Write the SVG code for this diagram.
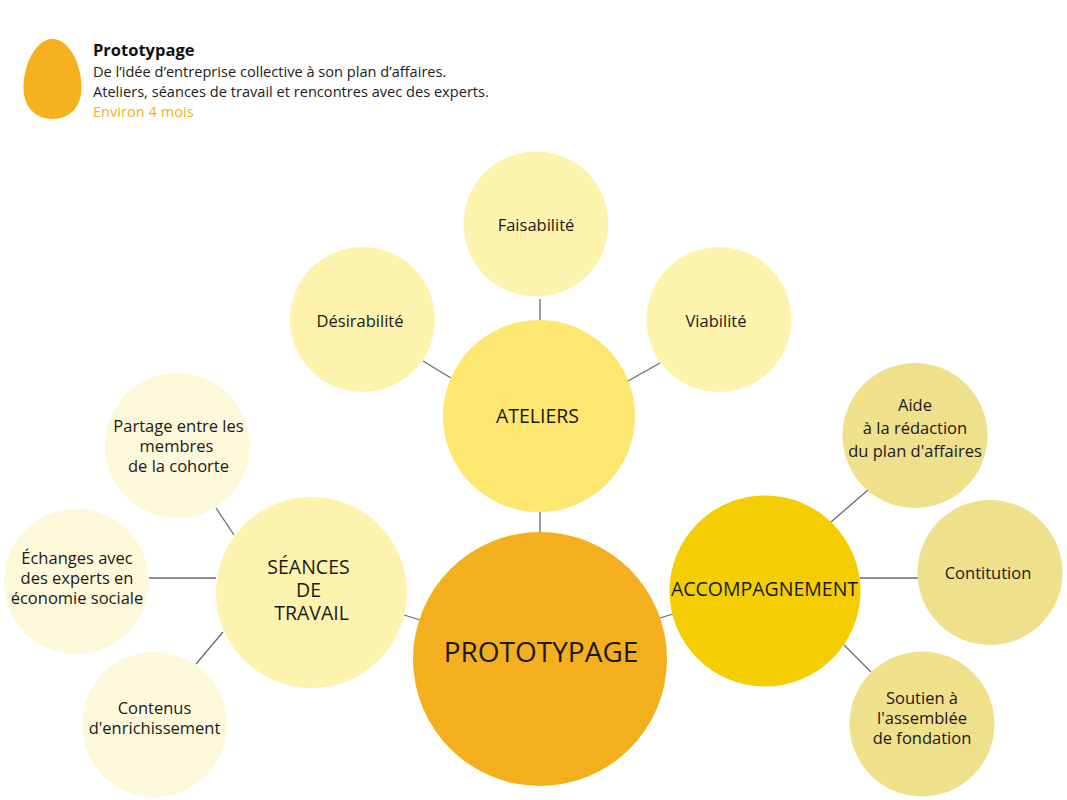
<svg xmlns="http://www.w3.org/2000/svg" width="1067" height="800" viewBox="0 0 1067 800">
<style>
  text { font-family: "Open Sans", "Noto Sans", "Liberation Sans", sans-serif; fill: #1a1a1a; text-anchor: middle; }
  .hdr { text-anchor: start; font-size: 14.6px; fill: #222; }
  .ttl { text-anchor: start; font-size: 16.5px; font-weight: bold; fill: #111; }
  .acc { fill: #F5B01F; }
  .sm { font-size: 16.5px; }
  .md { font-size: 19.5px; }
  .lg { font-size: 28px; }
  .conn line { stroke: #6b6b6b; stroke-width: 1.3; }
  .c-main { fill: #F4AF1F; }
  .c-atel { fill: #FDE770; }
  .c-seance { fill: #FEF3AE; }
  .c-accomp { fill: #F4CE02; }
  .c-atel-sub { fill: #FEF3AD; }
  .c-seance-sub { fill: #FEF8DB; }
  .c-accomp-sub { fill: #EFE08C; }
</style>
<rect width="1067" height="800" fill="#ffffff"/>

<g id="header">
  <path d="M52.5,39 C68,39 81.5,62 81.5,88 C81.5,108 68.5,119 52.5,119 C36.5,119 23.5,108 23.5,88 C23.5,62 37,39 52.5,39 Z" fill="#F5B11F"/>
  <text class="ttl" x="93" y="56">Prototypage</text>
  <text class="hdr" x="93" y="77">De l’idée d’entreprise collective à son plan d’affaires.</text>
  <text class="hdr" x="93" y="97">Ateliers, séances de travail et rencontres avec des experts.</text>
  <text class="hdr acc" x="93" y="117">Environ 4 mois</text>
</g>

<g id="connectors" class="conn">
  <line x1="540" y1="299" x2="540" y2="320"/>
  <line x1="423" y1="361" x2="451" y2="378"/>
  <line x1="628" y1="381" x2="660" y2="363"/>
  <line x1="540" y1="512" x2="540" y2="532"/>
  <line x1="216" y1="508" x2="234" y2="535"/>
  <line x1="149" y1="578" x2="216" y2="578"/>
  <line x1="196" y1="664" x2="223" y2="632"/>
  <line x1="404" y1="615" x2="420" y2="620"/>
  <line x1="660" y1="618" x2="673" y2="614"/>
  <line x1="831" y1="522" x2="868" y2="490"/>
  <line x1="860" y1="578" x2="918" y2="578"/>
  <line x1="844" y1="645" x2="871" y2="672"/>
</g>

<g id="node-faisabilite">
  <circle class="c-atel-sub" cx="536" cy="224" r="72.5"/>
  <text class="sm" x="536" y="231">Faisabilité</text>
</g>
<g id="node-desirabilite">
  <circle class="c-atel-sub" cx="362.5" cy="319.5" r="72.5"/>
  <text class="sm" x="360" y="327">Désirabilité</text>
</g>
<g id="node-viabilite">
  <circle class="c-atel-sub" cx="719" cy="319.5" r="72.5"/>
  <text class="sm" x="716" y="327">Viabilité</text>
</g>
<g id="node-ateliers">
  <circle class="c-atel" cx="539" cy="416" r="96"/>
  <text class="md" x="537.5" y="423">ATELIERS</text>
</g>

<g id="node-partage">
  <circle class="c-seance-sub" cx="177.5" cy="445.5" r="72.5"/>
  <text class="sm" x="178.5" y="432">Partage entre les</text>
  <text class="sm" x="176.5" y="452">membres</text>
  <text class="sm" x="178.5" y="472">de la cohorte</text>
</g>
<g id="node-echanges">
  <circle class="c-seance-sub" cx="76.5" cy="581.5" r="72.5"/>
  <text class="sm" x="77" y="564">Échanges avec</text>
  <text class="sm" x="77" y="584">des experts en</text>
  <text class="sm" x="77" y="603.5">économie sociale</text>
</g>
<g id="node-contenus">
  <circle class="c-seance-sub" cx="154.5" cy="724.5" r="72.5"/>
  <text class="sm" x="154.5" y="714">Contenus</text>
  <text class="sm" x="154.5" y="734">d'enrichissement</text>
</g>
<g id="node-seances">
  <circle class="c-seance" cx="311.5" cy="592.5" r="95.5"/>
  <text class="md" x="308.5" y="574">SÉANCES</text>
  <text class="md" x="308.5" y="597">DE</text>
  <text class="md" x="311.5" y="619.5">TRAVAIL</text>
</g>

<g id="node-aide">
  <circle class="c-accomp-sub" cx="915" cy="435.5" r="72.5"/>
  <text class="sm" x="915" y="411">Aide</text>
  <text class="sm" x="915" y="433.5">à la rédaction</text>
  <text class="sm" x="915" y="456.5">du plan d'affaires</text>
</g>
<g id="node-contitution">
  <circle class="c-accomp-sub" cx="990" cy="572.5" r="72.5"/>
  <text class="sm" x="988" y="578.5">Contitution</text>
</g>
<g id="node-soutien">
  <circle class="c-accomp-sub" cx="922" cy="724" r="72.5"/>
  <text class="sm" x="922" y="704">Soutien à</text>
  <text class="sm" x="922" y="724">l'assemblée</text>
  <text class="sm" x="922" y="744">de fondation</text>
</g>
<g id="node-accompagnement">
  <circle class="c-accomp" cx="765" cy="591" r="95.5"/>
  <text class="md" x="764.5" y="596">ACCOMPAGNEMENT</text>
</g>

<g id="node-prototypage">
  <circle class="c-main" cx="540" cy="659" r="127"/>
  <text class="lg" x="541" y="662">PROTOTYPAGE</text>
</g>
</svg>
